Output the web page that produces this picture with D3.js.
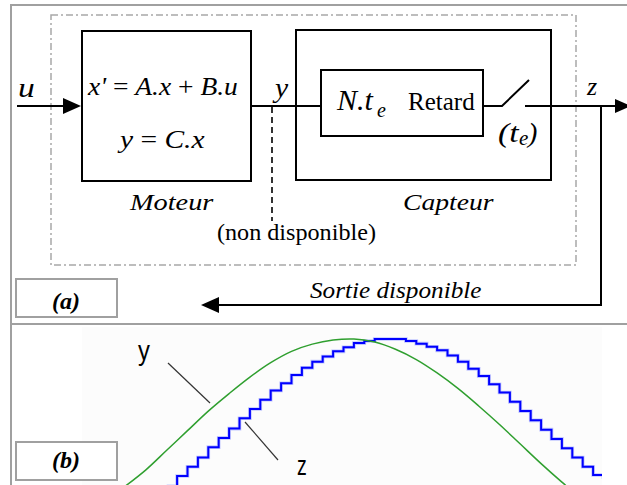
<!DOCTYPE html>
<html><head><meta charset="utf-8">
<script src="https://cdn.jsdelivr.net/npm/d3@7"></script>
<style>body{margin:0;background:#fff}svg{display:block}</style>
</head><body><svg id="c" width="627" height="485"></svg>
<script>
// ---- data (sample index in units of te, amplitude normalised to peak = 1) ----
const zSteps  = [8,9,10,11,12,13,14,15,16,17,18,19,20,21,22,23,24,25,26,27,28,29,30,31,32,33,34,35,36,37,38,39,40,41,42,43,44,45,46,47,48,49,50];
const zValues = [-0.43,-0.33,-0.24,-0.15,-0.05,0.04,0.13,0.23,0.32,0.41,0.50,0.57,0.65,0.72,0.78,0.83,0.88,0.92,0.96,0.98,1.00,1.00,1.00,0.98,0.955,0.925,0.89,0.84,0.78,0.71,0.64,0.56,0.48,0.39,0.30,0.21,0.12,0.03,-0.06,-0.15,-0.24,-0.32,-0.36];
const yTimes  = [4,6,8,10,12,14,16,18,20,22,24,26,28,30,32,34,36,38,40,42,44,46,48];
const yValues = [-0.43,-0.27,-0.08,0.11,0.30,0.47,0.63,0.77,0.88,0.95,0.99,1.00,0.97,0.90,0.80,0.67,0.52,0.35,0.17,-0.02,-0.21,-0.39,-0.56];
const curveLabels = ["y","z"];

const SERIF = '"Liberation Serif"';
const SANS = '"Liberation Sans"';
const svg = d3.select("#c");
svg.append("rect").attr("width",627).attr("height",485).attr("fill","#fff");

// ---- plot (b) ----
const x = d3.scaleLinear().domain([0,50]).range([83.5,603.5]);
const y = d3.scaleLinear().domain([0,1]).range([442,339]);
svg.append("clipPath").attr("id","pc").append("rect").attr("x",82).attr("y",327).attr("width",520).attr("height",158);
svg.append("rect").attr("x",82).attr("y",327).attr("width",520).attr("height",160).attr("fill","#fcfcfc");
const pg = svg.append("g").attr("clip-path","url(#pc)");
const zLine = d3.line().x((d,i)=>x(zSteps[i])).y(d=>y(d)).curve(d3.curveStepAfter);
pg.append("path").attr("d",zLine(zValues)).attr("fill","none").attr("stroke","#aab0ff").attr("stroke-width",3.6).attr("opacity",0.7);
pg.append("path").attr("d",zLine(zValues)).attr("fill","none").attr("stroke","#0000ff").attr("stroke-width",2);
const yLine = d3.line().x((d,i)=>x(yTimes[i])).y(d=>y(d)).curve(d3.curveCatmullRom);
pg.append("path").attr("d",yLine(yValues)).attr("fill","none").attr("stroke","#2f9f2f").attr("stroke-width",1.5);

svg.append("text").style("font-family",SANS).attr("x",138).attr("y",360).attr("font-size",28)
  .attr("transform","translate(138,360) scale(0.85,1) translate(-138,-360)").text(curveLabels[0]);
svg.append("text").style("font-family",SANS).attr("x",297).attr("y",475).attr("font-size",28)
  .attr("transform","translate(297,475) scale(0.7,1) translate(-297,-475)").text(curveLabels[1]);
svg.append("line").attr("x1",168).attr("y1",363).attr("x2",210).attr("y2",403).attr("stroke","#333").attr("stroke-width",1.2);
svg.append("line").attr("x1",245).attr("y1",422).attr("x2",278).attr("y2",460).attr("stroke","#333").attr("stroke-width",1.2);

// ---- frames ----
const gray = "#a0a0a0";
svg.append("path").attr("d","M11,490 V5 H640").attr("fill","none").attr("stroke",gray).attr("stroke-width",2);
svg.append("line").attr("x1",11).attr("x2",640).attr("y1",324).attr("y2",324).attr("stroke",gray).attr("stroke-width",2);
svg.append("rect").attr("x",51).attr("y",15).attr("width",525).attr("height",250)
  .attr("fill","none").attr("stroke","#a8a8a8").attr("stroke-width",1.5).attr("stroke-dasharray","7,3,2,3");
[[279,"(a)",309],[442,"(b)",468]].forEach(([y0,t,bl])=>{
  svg.append("rect").attr("x",16).attr("y",y0).attr("width",101).attr("height",38)
    .attr("fill","#fff").attr("stroke",gray).attr("stroke-width",2);
  svg.append("text").style("font-family",SERIF).attr("x",66).attr("y",bl).attr("text-anchor","middle")
    .attr("font-size",24).attr("font-weight","bold").attr("font-style","italic").text(t);
});

// ---- block diagram ----
const blk = svg.append("g").attr("stroke","#000").attr("fill","none").attr("stroke-width",2);
blk.append("rect").attr("x",82).attr("y",31).attr("width",169).attr("height",150);
blk.append("rect").attr("x",296).attr("y",30).attr("width",255).attr("height",150);
blk.append("rect").attr("x",321).attr("y",70).attr("width",162).attr("height",66);
blk.append("line").attr("x1",17).attr("x2",66).attr("y1",106).attr("y2",106);
blk.append("line").attr("x1",251).attr("x2",321).attr("y1",106).attr("y2",106);
blk.append("path").attr("d","M483,106 H502 L529,80");
blk.append("line").attr("x1",525).attr("x2",618).attr("y1",106).attr("y2",106);
blk.append("path").attr("d","M601,106 V305 H214");
blk.append("line").attr("x1",272).attr("x2",272).attr("y1",107).attr("y2",221).attr("stroke-width",1.6).attr("stroke-dasharray","6,4");
const arr = svg.append("g").attr("fill","#000");
arr.append("path").attr("d","M63,98 L81,106 L63,114 Z");
arr.append("path").attr("d","M615,99 L631,106 L615,113 Z");
arr.append("path").attr("d","M219,297 L201,305 L219,313 Z");

function txt(x,y,size,style,str,sx){
  const t = svg.append("text").style("font-family",SERIF).attr("x",x).attr("y",y)
    .attr("font-size",size).attr("font-style",style||"normal").text(str);
  if(sx) t.attr("transform",`translate(${x},${y}) scale(${sx},1) translate(${-x},${-y})`);
  return t;
}
txt(18,97,28,"italic","u",1.2);
const eq1 = svg.append("text").style("font-family",SERIF).attr("x",88).attr("y",95).attr("font-size",25)
  .attr("transform","translate(88,95) scale(1.1,1) translate(-88,-95)");
eq1.append("tspan").attr("font-style","italic").text("x'");
eq1.append("tspan").text(" = ");
eq1.append("tspan").attr("font-style","italic").text("A.x");
eq1.append("tspan").text(" + ");
eq1.append("tspan").attr("font-style","italic").text("B.u");
const eq2 = svg.append("text").style("font-family",SERIF).attr("x",120).attr("y",148).attr("font-size",25)
  .attr("transform","translate(120,148) scale(1.18,1) translate(-120,-148)");
eq2.append("tspan").attr("font-style","italic").text("y");
eq2.append("tspan").text(" = ");
eq2.append("tspan").attr("font-style","italic").text("C.x");
txt(130,210,24,"italic","Moteur",1.18);
txt(403,210,24,"italic","Capteur",1.15);
txt(217,240,23,"normal","(non disponible)",1.05);
txt(275,97,27,"italic","y",1.1);
txt(337,110,30,"italic","N.t");
txt(377,117,20,"italic","e");
txt(408,110,25,"normal","Retard");
txt(498,142,28,"italic","(t",1.2);
txt(519,145,21,"italic","e");
txt(528,142,28,"italic",")");
txt(587,95,26,"italic","z");
txt(310,298,24,"italic","Sortie disponible",1.05);
</script></body></html>
